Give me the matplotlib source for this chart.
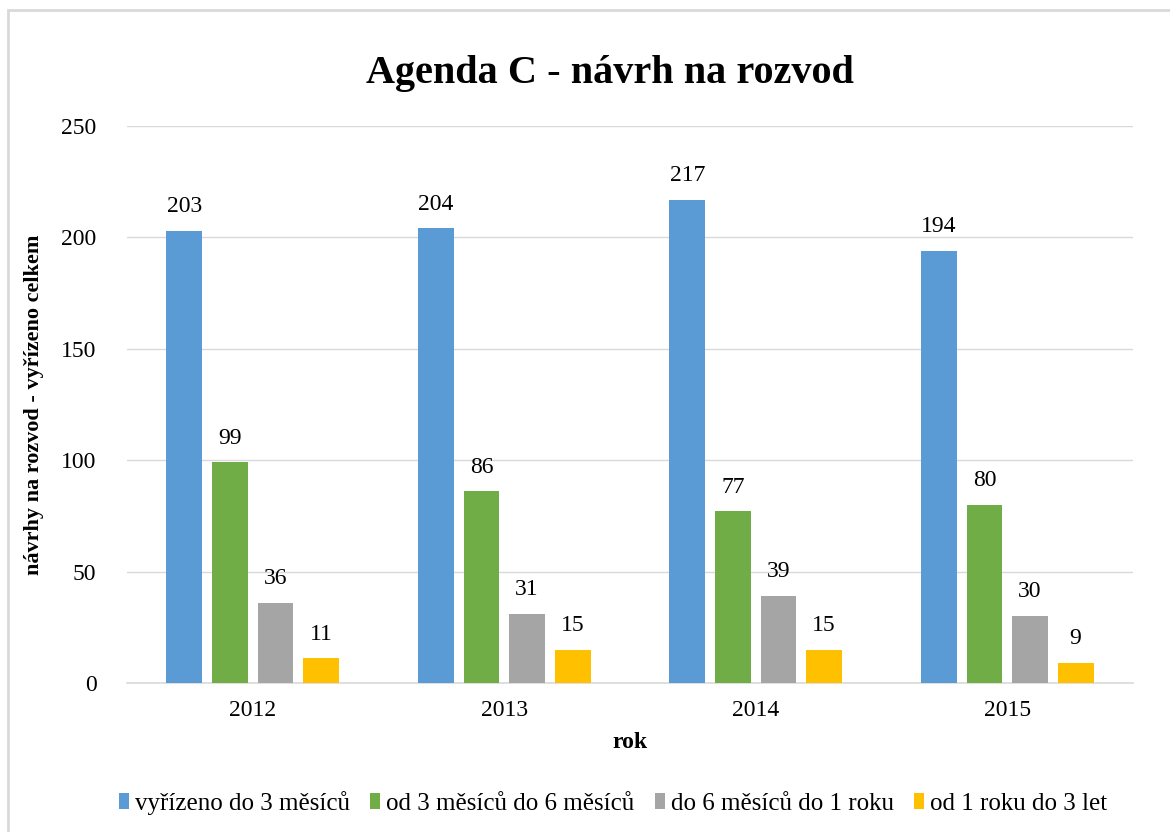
import numpy as np
import matplotlib.pyplot as plt
from matplotlib.patches import Rectangle

years = ['2012', '2013', '2014', '2015']
series_names = ['vyřízeno do 3 měsíců', 'od 3 měsíců do 6 měsíců',
                'do 6 měsíců do 1 roku', 'od 1 roku do 3 let']
do_3_mesicu = [203, 204, 217, 194]
od_3_do_6 = [99, 86, 77, 80]
od_6_do_1_roku = [36, 31, 39, 30]
od_1_do_3_let = [11, 15, 15, 9]
colors = ['#5B9BD5', '#70AD47', '#A5A5A5', '#FFC000']

serif = ['Liberation Serif', 'DejaVu Serif']
plt.rcParams['font.family'] = serif

fig = plt.figure(figsize=(11.7, 8.32), dpi=100)
ax = fig.add_axes([127 / 1170, 1 - 683 / 832, 1006 / 1170, 557 / 832])

# outer chart frame (cut at right/bottom like the reference)
fig.patches.append(Rectangle((8 / 1170, -0.1), 1.2, 1 - 10 / 832 + 0.1,
                             transform=fig.transFigure, fill=False,
                             edgecolor='#D9D9D9', linewidth=2))

x = np.arange(len(years))
width = 0.143
step = 0.181
all_series = [do_3_mesicu, od_3_do_6, od_6_do_1_roku, od_1_do_3_let]
for i, (vals, name, c) in enumerate(zip(all_series, series_names, colors)):
    pos = x + (i - 1.5) * step
    ax.bar(pos, vals, width, color=c, label=name, zorder=3)
    for p, v in zip(pos, vals):
        ax.annotate(str(v), (p, v), xytext=(0, 10), textcoords='offset points',
                    ha='center', va='bottom', fontsize=17)

ax.set_xlim(-0.5, 3.5)
ax.set_ylim(0, 250)
ax.set_yticks(range(0, 251, 50))
ax.set_xticks(x)
ax.set_xticklabels(years)
ax.tick_params(axis='both', length=0, labelsize=17)
ax.tick_params(axis='y', pad=22)
ax.tick_params(axis='x', pad=12)
ax.grid(axis='y', color='#D9D9D9', linewidth=1, zorder=0)
for s in ['top', 'right', 'left']:
    ax.spines[s].set_visible(False)
ax.spines['bottom'].set_color('#D9D9D9')
ax.spines['bottom'].set_linewidth(1.2)

ax.set_xlabel('rok', fontsize=17, fontweight='bold', labelpad=8)
ax.set_ylabel('návrhy na rozvod - vyřízeno celkem', fontsize=16,
              fontweight='bold', labelpad=12)
fig.text(610 / 1170, 1 - 73 / 832, 'Agenda C - návrh na rozvod',
         ha='center', va='center', fontsize=29, fontweight='bold')

leg = fig.legend(loc='center', bbox_to_anchor=(613 / 1170, 1 - 803 / 832),
                 ncol=4, frameon=False, fontsize=18,
                 handlelength=0.4, handleheight=0.6,
                 handletextpad=0.25, columnspacing=0.8)
for t in leg.get_texts():
    t.set_fontfamily('Liberation Serif')

fig.savefig('out.png', dpi=100)
